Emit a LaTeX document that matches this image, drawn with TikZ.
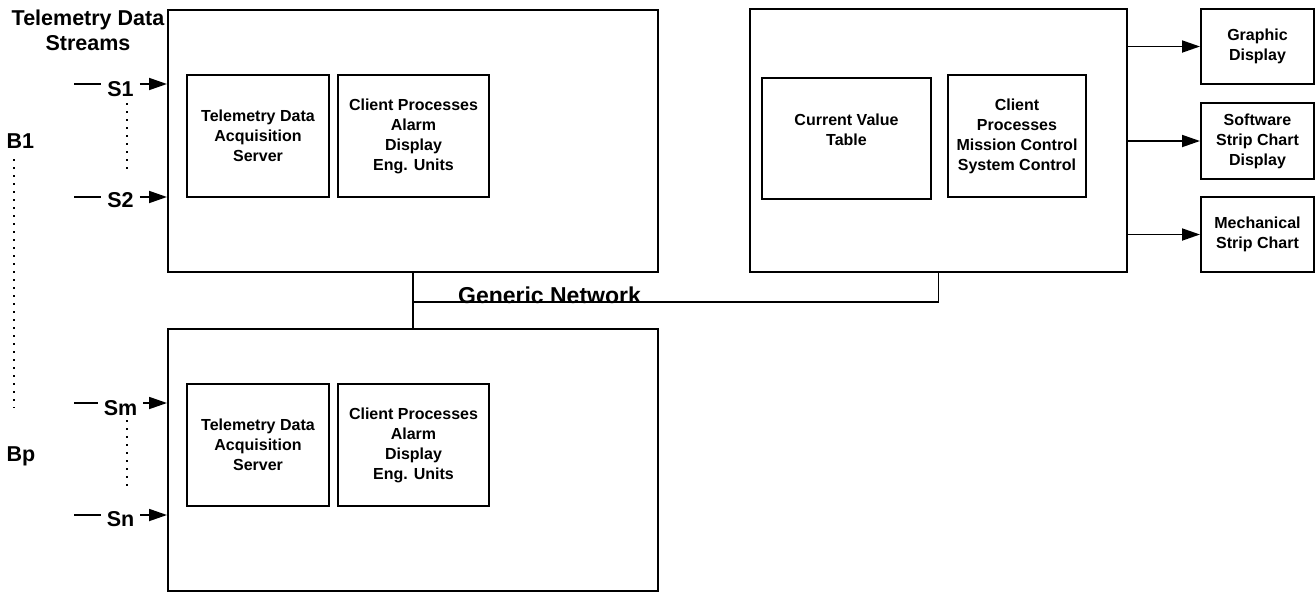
\documentclass[tikz,border=0pt]{standalone}
\usepackage{fontspec}
\setmainfont{Liberation Sans}
\usetikzlibrary{positioning,arrows.meta}

\newcommand{\boxfont}{\fontsize{16}{20}\selectfont\bfseries}
\newcommand{\bigfont}{\fontsize{21.5}{25}\selectfont\bfseries}
\newcommand{\netfont}{\fontsize{23}{26}\selectfont\bfseries}

\begin{document}
\begin{tikzpicture}[x=1pt,y=-1pt,
    bigbox/.style={draw, line width=2pt, inner sep=0pt},
    inbox/.style={draw, line width=2pt, align=center, font=\boxfont, inner sep=0pt},
    sig/.style={font=\bigfont, anchor=base, inner sep=6pt},
    arr/.style={line width=1.8pt, -{Triangle[length=18pt,width=12pt]}},
    wire/.style={line width=1.6pt},
    dotline/.style={line width=2pt, dash pattern=on 2pt off 6pt}]

    \useasboundingbox (0,0) rectangle (1315,592);

    % server boxes
    \node[bigbox, minimum width=490pt, minimum height=262pt] (boxA) at (413,141) {};
    \node[bigbox, minimum width=490pt, minimum height=262pt] (boxB) at (413,459.5) {};
    \node[bigbox, minimum width=377pt, minimum height=263pt] (boxC) at (938.5,140.5) {};

    \node[inbox, minimum width=142pt, minimum height=122pt] (srvA) at (258,136) {Telemetry Data\\Acquisition\\Server};
    \node[inbox, minimum width=151pt, minimum height=122pt] (cliA) at (413.5,136) {Client Processes\\Alarm\\Display\\Eng. Units};
    \node[inbox, minimum width=142pt, minimum height=122pt] (srvB) at (258,445) {Telemetry Data\\Acquisition\\Server};
    \node[inbox, minimum width=151pt, minimum height=122pt] (cliB) at (413.5,445) {Client Processes\\Alarm\\Display\\Eng. Units};

    \node[inbox, minimum width=169pt, minimum height=121pt] (cvt) at (846.5,138.5) {};
    \node[font=\boxfont, align=center] (cvtlabel) at ([yshift=9pt]cvt.center) {Current Value\\Table};
    \node[inbox, minimum width=138pt, minimum height=122pt] (cliC) at (1017,136) {Client\\Processes\\Mission Control\\System Control};

    % displays
    \node[inbox, minimum width=113pt, minimum height=75pt] (gd) at (1257.5,46.5) {Graphic\\Display};
    \node[inbox, minimum width=113pt, minimum height=76pt] (ssc) at (1257.5,141) {Software\\Strip Chart\\Display};
    \node[inbox, minimum width=113pt, minimum height=75pt] (msc) at (1257.5,234.5) {Mechanical\\Strip Chart};
    \foreach \t in {gd,ssc,msc}
        \draw[arr] (boxC.east |- \t.west) -- (\t.west);

    % streams
    \node[font=\bigfont, align=center, anchor=north, inner sep=0pt] (tds) at (88,9.5) {Telemetry Data\\Streams};
    \foreach \n/\txt/\ly/\ty/\b in {s1/S1/84/96/boxA, s2/S2/197/207.5/boxA, sm/Sm/403/415/boxB, sn/Sn/515/526/boxB} {
        \coordinate (\n in) at (74,\ly);
        \node[sig] (\n) at (120.5,\ty) {\txt};
        \draw[wire] (\n in) -- (\n in -| \n.west);
        \draw[arr] (\n in -| \n.east) -- (\n in -| \b.west);
    }
    \node[font=\bigfont, anchor=base west, inner sep=0pt] (b1) at (6.5,148) {B1};
    \node[font=\bigfont, anchor=base west, inner sep=0pt] (bp) at (6.5,461) {Bp};
    \draw[dotline] (14,159) -- (14,408);
    \draw[dotline] (127,103) -- (127,170);
    \draw[dotline] (127,420) -- (127,488);

    % network
    \draw[wire] (boxA.south) -- (boxB.north);
    \coordinate (tap) at (413,302);
    \draw[wire] (tap) -- (tap -| boxC.south) -- (boxC.south);
    \node[font=\netfont, anchor=base, inner sep=0pt] (net) at (549.5,303) {Generic Network};
\end{tikzpicture}
\end{document}
